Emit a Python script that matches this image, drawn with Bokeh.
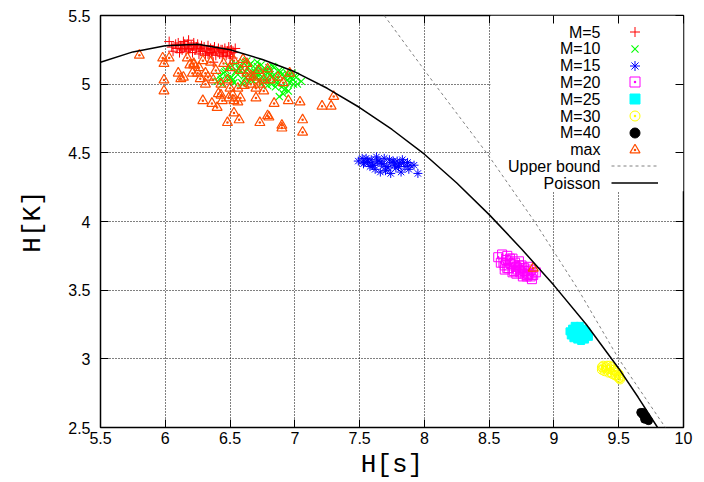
from bokeh.plotting import figure
from bokeh.models import (Legend, LegendItem, Label, LinearAxis, FixedTicker,
                          Range1d, BoxAnnotation, CustomLabelingPolicy)
from bokeh.embed import file_html
from bokeh.resources import INLINE

# ---------------- data ----------------
x_ticks = [5.5, 6, 6.5, 7, 7.5, 8, 8.5, 9, 9.5, 10]
x_tick_labels = ["5.5", "6", "6.5", "7", "7.5", "8", "8.5", "9", "9.5", "10"]
y_ticks = [2.5, 3, 3.5, 4, 4.5, 5, 5.5]
y_tick_labels = ["2.5", "3", "3.5", "4", "4.5", "5", "5.5"]

legend_labels = ["M=5", "M=10", "M=15", "M=20", "M=25", "M=30", "M=40",
                 "max", "Upper bound", "Poisson"]

m5_x = [6.03, 6.05, 6.06, 6.08, 6.09, 6.10, 6.11, 6.12, 6.13, 6.14,
        6.15, 6.16, 6.17, 6.18, 6.19, 6.20, 6.21, 6.22, 6.23, 6.24,
        6.25, 6.26, 6.27, 6.28, 6.29, 6.30, 6.31, 6.32, 6.33, 6.34,
        6.35, 6.36, 6.37, 6.38, 6.39, 6.40, 6.41, 6.42, 6.43, 6.44,
        6.45, 6.46, 6.47, 6.48, 6.49, 6.50, 6.51, 6.52, 6.53, 6.54,
        6.12, 6.18, 6.22, 6.27, 6.33, 6.37, 6.44, 6.50, 6.36, 6.15]
m5_y = [5.31, 5.27, 5.24, 5.29, 5.26, 5.30, 5.23, 5.28, 5.25, 5.31,
        5.27, 5.24, 5.29, 5.32, 5.26, 5.28, 5.23, 5.30, 5.25, 5.27,
        5.29, 5.22, 5.26, 5.28, 5.24, 5.27, 5.21, 5.25, 5.28, 5.23,
        5.26, 5.22, 5.25, 5.27, 5.21, 5.24, 5.26, 5.22, 5.25, 5.20,
        5.23, 5.26, 5.21, 5.24, 5.27, 5.22, 5.25, 5.19, 5.23, 5.26,
        5.26, 5.25, 5.28, 5.24, 5.22, 5.16, 5.25, 5.20, 5.23, 5.29]

m10_x = [6.40, 6.42, 6.44, 6.46, 6.48, 6.50, 6.52, 6.54, 6.56, 6.58,
         6.60, 6.62, 6.64, 6.66, 6.68, 6.70, 6.72, 6.74, 6.76, 6.78,
         6.80, 6.82, 6.84, 6.86, 6.88, 6.90, 6.92, 6.94, 6.96, 6.98,
         7.00, 7.02, 7.05,
         6.45, 6.49, 6.53, 6.57, 6.61, 6.65, 6.69, 6.73, 6.77, 6.81,
         6.85, 6.89, 6.93, 6.97,
         6.51, 6.59, 6.63, 6.67, 6.71, 6.75, 6.79, 6.83, 6.87, 6.91,
         6.95, 6.99, 6.88, 6.92, 6.55, 6.68, 6.78,
         6.47, 6.50, 6.54, 6.58, 6.62, 6.64, 6.66, 6.70, 6.72, 6.74,
         6.78, 6.80, 6.82, 6.84, 6.86, 6.90, 6.94, 6.98, 7.01, 6.60,
         6.76, 6.85, 6.95, 6.43, 6.71]
m10_y = [5.02, 5.06, 5.00, 5.09, 5.04, 5.12, 5.03, 5.15, 5.07, 5.10,
         5.16, 5.05, 5.12, 5.08, 5.02, 5.11, 5.06, 5.14, 5.04, 5.09,
         5.12, 5.00, 5.07, 5.03, 5.10, 4.98, 5.05, 5.08, 5.01, 5.04,
         5.06, 5.00, 5.02,
         5.08, 5.13, 5.01, 5.11, 5.06, 5.14, 5.09, 5.03, 5.11, 5.07,
         5.04, 5.09, 4.97, 5.05,
         5.05, 5.01, 5.17, 5.03, 5.13, 5.09, 4.99, 5.13, 5.00, 4.93,
         4.95, 5.00, 4.91, 4.96, 5.10, 5.06, 5.02,
         5.10, 5.04, 5.09, 5.13, 5.09, 5.02, 5.15, 5.05, 5.08, 5.00,
         5.04, 5.09, 5.05, 5.12, 5.01, 5.07, 5.03, 5.08, 5.05, 5.00,
         5.10, 4.98, 5.06, 5.03, 5.16]

m15_x = [7.49, 7.53, 7.55, 7.57, 7.59, 7.61, 7.63, 7.65, 7.67, 7.69,
         7.71, 7.73, 7.75, 7.77, 7.79, 7.81, 7.83, 7.85, 7.87, 7.89,
         7.52, 7.56, 7.60, 7.64, 7.68, 7.72, 7.76, 7.80, 7.84, 7.88,
         7.62, 7.66, 7.70, 7.74, 7.78, 7.82, 7.58, 7.54, 7.92, 7.95]
m15_y = [4.44, 4.42, 4.46, 4.43, 4.45, 4.41, 4.47, 4.44, 4.42, 4.46,
         4.40, 4.45, 4.43, 4.41, 4.44, 4.42, 4.45, 4.40, 4.43, 4.41,
         4.46, 4.44, 4.41, 4.44, 4.42, 4.39, 4.44, 4.40, 4.43, 4.38,
         4.38, 4.36, 4.37, 4.35, 4.39, 4.36, 4.40, 4.43, 4.41, 4.35]

m20_x = [8.57, 8.59, 8.60, 8.62, 8.63, 8.64, 8.65, 8.66, 8.67, 8.68,
         8.69, 8.70, 8.71, 8.72, 8.73, 8.74, 8.75, 8.76, 8.77, 8.78,
         8.79, 8.80, 8.81, 8.82, 8.83, 8.84, 8.86,
         8.61, 8.64, 8.66, 8.69, 8.71, 8.74, 8.77, 8.79, 8.82, 8.62,
         8.68, 8.73, 8.76, 8.80]
m20_y = [3.74, 3.70, 3.76, 3.68, 3.72, 3.75, 3.66, 3.71, 3.69, 3.73,
         3.64, 3.70, 3.67, 3.65, 3.71, 3.63, 3.68, 3.62, 3.66, 3.64,
         3.60, 3.67, 3.62, 3.65, 3.58, 3.61, 3.63,
         3.70, 3.66, 3.73, 3.68, 3.62, 3.66, 3.64, 3.61, 3.60, 3.65,
         3.63, 3.68, 3.60, 3.62]

m25_x = [9.12, 9.13, 9.14, 9.15, 9.16, 9.17, 9.18, 9.19, 9.20, 9.21,
         9.21, 9.22, 9.23, 9.24, 9.24, 9.25, 9.26, 9.27,
         9.15, 9.17, 9.18, 9.20, 9.22, 9.23, 9.16, 9.19, 9.22, 9.21]
m25_y = [3.20, 3.17, 3.22, 3.19, 3.24, 3.17, 3.21, 3.23, 3.18, 3.21,
         3.15, 3.22, 3.17, 3.19, 3.14, 3.20, 3.18, 3.16,
         3.15, 3.20, 3.14, 3.24, 3.18, 3.21, 3.21, 3.16, 3.20, 3.13]

m30_x = [9.37, 9.37, 9.38, 9.39, 9.40, 9.41, 9.42, 9.43, 9.44, 9.45,
         9.46, 9.47, 9.48, 9.49, 9.50, 9.50, 9.51, 9.51,
         9.38, 9.41, 9.44, 9.47, 9.50, 9.43]
m30_y = [2.92, 2.94, 2.95, 2.91, 2.94, 2.95, 2.90, 2.93, 2.94, 2.89,
         2.92, 2.91, 2.88, 2.90, 2.87, 2.89, 2.85, 2.86,
         2.93, 2.92, 2.90, 2.88, 2.86, 2.95]

m40_x = [9.67, 9.68, 9.69, 9.70, 9.71, 9.72, 9.73, 9.69, 9.71, 9.70]
m40_y = [2.61, 2.60, 2.59, 2.58, 2.57, 2.56, 2.55, 2.61, 2.58, 2.56]

max_x = [5.80, 5.98, 6.03, 5.99, 6.10, 6.12, 5.99, 5.99, 6.17,
         6.29, 6.36, 6.40, 6.43, 6.44, 6.49, 6.53, 6.58, 6.48, 6.53,
         6.57, 6.70, 6.73, 6.79, 6.84, 6.90, 6.90, 6.95, 7.04, 7.06,
         7.06, 7.21, 7.28, 7.30, 8.84,
         6.19, 6.22, 6.26, 6.21, 6.25, 6.31, 6.33, 6.27, 6.31, 6.37,
         6.41, 6.52, 6.56, 6.43, 6.48, 6.50, 6.56, 6.61, 6.66, 6.70,
         6.73, 6.76, 6.76, 6.80, 6.79, 6.96, 6.87, 6.81, 6.91, 6.63,
         6.58, 6.50, 6.45, 6.53, 6.63, 6.35, 6.39, 6.29, 6.14, 6.68,
         6.72, 6.60, 6.22, 6.66]
max_y = [5.21, 5.19, 5.19, 5.15, 5.08, 5.04, 5.03, 4.95, 5.19,
         4.88, 4.86, 4.83, 4.92, 4.88, 4.90, 4.88, 4.90, 4.72, 4.79,
         4.74, 4.90, 4.72, 4.77, 4.86, 4.70, 4.68, 4.88, 4.87, 4.74,
         4.65, 4.84, 4.84, 4.91, 3.66,
         5.14, 5.15, 5.12, 5.08, 5.08, 5.08, 5.05, 5.04, 5.00, 5.03,
         4.93, 4.92, 4.87, 5.00, 5.03, 4.97, 4.97, 4.99, 5.00, 4.97,
         5.00, 5.03, 4.95, 4.76, 5.11, 5.08, 5.05, 5.03, 5.01, 5.08,
         5.10, 5.12, 5.15, 5.17, 5.15, 5.16, 5.10, 5.17, 5.05, 5.05,
         5.10, 5.18, 5.14, 5.06]

pois_x = [5.5, 5.75, 6.0, 6.25, 6.5, 6.75, 7.0, 7.25, 7.5, 7.75,
          8.0, 8.25, 8.5, 8.75, 9.0, 9.25, 9.5, 9.65, 9.8]
pois_y = [5.16, 5.235, 5.28, 5.29, 5.25, 5.18, 5.09, 4.97, 4.83, 4.67,
          4.49, 4.28, 4.05, 3.80, 3.535, 3.25, 2.93, 2.72, 2.50]

ub_x = [7.69, 8.08, 8.48, 8.85, 9.19, 9.50, 9.86]
ub_y = [5.5, 5.0, 4.5, 4.0, 3.5, 3.0, 2.5]

# ---------------- figure ----------------
FRAME_H = 412
p = figure(width=704, height=482, output_backend="svg", toolbar_location=None,
           x_range=Range1d(5.5, 10), y_range=Range1d(2.5, 5.5),
           min_border_left=100, min_border_right=21,
           min_border_top=15, min_border_bottom=55,
           x_axis_label="H[s]", y_axis_label="H[K]")
p.background_fill_color = "white"
p.border_fill_color = "white"
p.outline_line_color = "black"
p.outline_line_width = 1.5

TICK_FONT = "Liberation Sans"
LABEL_FONT = "Liberation Mono"


def style_axis(ax, ticks, labels, show):
    ax.ticker = FixedTicker(ticks=ticks, minor_ticks=[])
    ax.major_tick_in = 8
    ax.major_tick_out = 0
    ax.minor_tick_in = 0
    ax.minor_tick_out = 0
    ax.major_tick_line_color = "black"
    ax.major_tick_line_width = 1
    ax.axis_line_color = None
    if show:
        ax.major_label_overrides = {float(t): l for t, l in zip(ticks, labels)}
        ax.major_label_text_font = TICK_FONT
        ax.major_label_text_font_size = "16px"
        ax.major_label_text_color = "black"
    else:
        # mirror ticks only: no labels on the top / right side
        ax.major_label_policy = CustomLabelingPolicy(code="return []")
        ax.major_label_text_font_size = "1px"
        ax.major_label_standoff = 0


xa = p.xaxis[0]
ya = p.yaxis[0]
style_axis(xa, x_ticks, x_tick_labels, True)
style_axis(ya, y_ticks, y_tick_labels, True)
xa.major_label_standoff = 4
xa.axis_label_standoff = 3
ya.major_label_standoff = 10
ya.axis_label_standoff = 17
for ax in (xa, ya):
    ax.axis_label_text_font = LABEL_FONT
    ax.axis_label_text_font_size = "26px"
    ax.axis_label_text_font_style = "normal"
    ax.axis_label_text_color = "black"

top_ax = LinearAxis()
right_ax = LinearAxis()
style_axis(top_ax, x_ticks, x_tick_labels, False)
style_axis(right_ax, y_ticks, y_tick_labels, False)
p.add_layout(top_ax, "above")
p.add_layout(right_ax, "right")

for g, t in ((p.xgrid[0], x_ticks), (p.ygrid[0], y_ticks)):
    g.ticker = FixedTicker(ticks=t, minor_ticks=[])
    g.grid_line_color = "black"
    g.grid_line_dash = "1 2"
    g.grid_line_width = 1
    g.grid_line_alpha = 1.0

# key area: gridlines are not drawn through it
key_bg = BoxAnnotation(left=8.51, right=10, bottom=4.22, top=5.5,
                       fill_color="white", fill_alpha=1.0, line_color=None,
                       level="underlay")
p.add_layout(key_bg)

# ---------------- series ----------------
r5 = p.scatter(m5_x, m5_y, marker="cross", size=10, line_color="#ff0000", line_width=1)
r10 = p.scatter(m10_x, m10_y, marker="x", size=10, line_color="#00ff00", line_width=1.1)
r15 = p.scatter(m15_x, m15_y, marker="asterisk", size=9, line_color="#0000ff", line_width=1)
r20 = p.scatter(m20_x, m20_y, marker="square_dot", size=9, line_color="#ff00ff",
                fill_color=None, line_width=1)
r25 = p.scatter(m25_x, m25_y, marker="square", size=7, line_color="#00ffff",
                fill_color="#00ffff")
r30 = p.scatter(m30_x, m30_y, marker="circle_dot", size=9, line_color="#ffff00",
                fill_color=None, line_width=1)
r40 = p.scatter(m40_x, m40_y, marker="circle", size=8, line_color="black",
                fill_color="black")
rmax = p.scatter(max_x, max_y, marker="triangle_dot", size=10, line_color="#ff4d00",
                 fill_color=None, line_width=1.2)
rub = p.line(ub_x, ub_y, line_color="#808080", line_dash="3 3", line_width=1)
rpo = p.line(pois_x, pois_y, line_color="black", line_width=1.5)

renderers = [r5, r10, r15, r20, r25, r30, r40, rmax, rub, rpo]

# ---------------- key: samples (one legend per row) + right-aligned texts ----------------
ROW = 16.8
FIRST_ROW_CENTRE = 31.5 - 15     # px below the frame top
GLYPH_W = 47
GLYPH_H = 25
SAMPLE_LEFT = 511                # frame-relative px
TEXT_RIGHT = 500                 # frame-relative px
for i, (lab, r) in enumerate(zip(legend_labels, renderers)):
    centre = FRAME_H - FIRST_ROW_CENTRE - ROW * i
    lg = Legend(items=[LegendItem(label="", renderers=[r])],
                location=(SAMPLE_LEFT, centre - GLYPH_H / 2),
                glyph_width=GLYPH_W, glyph_height=GLYPH_H,
                label_height=0, label_width=0, label_standoff=0,
                label_text_font_size="16px",
                padding=0, margin=0, spacing=0,
                border_line_color=None, background_fill_alpha=0)
    p.add_layout(lg)
    p.add_layout(Label(x=TEXT_RIGHT, y=centre, x_units="screen", y_units="screen",
                       text=lab, text_align="right", text_baseline="middle",
                       text_font=TICK_FONT, text_font_size="16px",
                       text_color="black"))

open("out.html", "w").write(file_html(p, INLINE))
